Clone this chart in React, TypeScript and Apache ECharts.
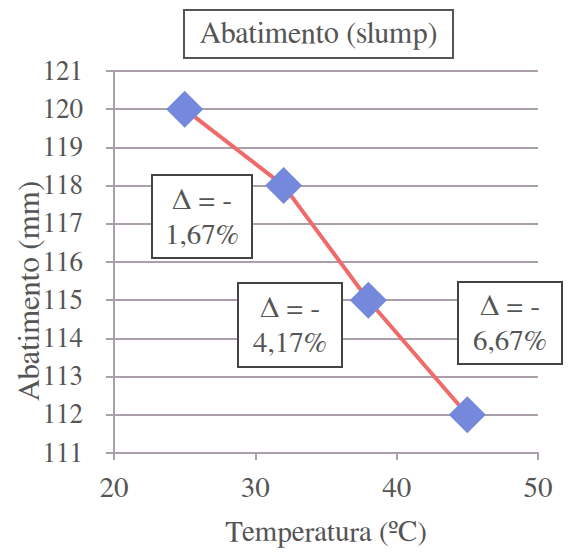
import React, { useEffect, useRef } from "react";
import * as echarts from "echarts";

const temperatures = [25, 32, 38, 45];
const slump = [120, 118, 115, 112];
const xTicks = { min: 20, max: 50, interval: 10 };
const yTicks = { min: 111, max: 121, interval: 1 };
const titleText = "Abatimento (slump)";
const xName = "Temperatura (ºC)";
const yName = "Abatimento (mm)";
const annotations = ["Δ = -\n1,67%", "Δ = -\n4,17%", "Δ = -\n6,67%"];

const FONT = "FreeSerif, 'DejaVu Serif', serif";
const TXT = "#555555";
const GRID = "#aa9fab";

export default function App() {
  const ref = useRef<HTMLDivElement>(null);
  useEffect(() => {
    document.body.style.margin = "0";
    if (!ref.current) return;
    const chart = echarts.init(ref.current, null, { renderer: "svg" });
    const boxes = [
      { x: 152, y: 175, w: 100, h: 83 },
      { x: 238, y: 283, w: 104, h: 84 },
      { x: 458, y: 282, w: 104, h: 82 },
    ];
    const graphic: any[] = [
      {
        type: "rect",
        shape: { x: 184, y: 10, width: 269, height: 48 },
        style: { fill: "#fff", stroke: "#555", lineWidth: 2 },
        z: 100,
      },
      {
        type: "text",
        x: 318.5,
        y: 34,
        style: {
          text: titleText,
          fontSize: 30,
          fontFamily: FONT,
          fill: TXT,
          align: "center",
          verticalAlign: "middle",
        },
        z: 101,
      },
      {
        type: "text",
        x: 29,
        y: 291,
        rotation: Math.PI / 2,
        style: {
          text: yName,
          fontSize: 31,
          fontFamily: FONT,
          fill: TXT,
          align: "center",
          verticalAlign: "middle",
        },
        z: 101,
      },
    ];
    annotations.forEach((t, i) => {
      const b = boxes[i];
      graphic.push({
        type: "rect",
        shape: { x: b.x, y: b.y, width: b.w, height: b.h },
        style: { fill: "#fff", stroke: "#444", lineWidth: 2 },
        z: 100,
      });
      graphic.push({
        type: "text",
        x: b.x + b.w / 2,
        y: b.y + b.h / 2 + 1,
        style: {
          text: t,
          fontSize: 29,
          fontFamily: FONT,
          lineHeight: 35,
          fill: TXT,
          align: "center",
          verticalAlign: "middle",
        },
        z: 101,
      });
    });
    chart.setOption({
      animation: false,
      backgroundColor: "#fff",
      grid: { left: 114, right: 32, top: 71, bottom: 96, containLabel: false },
      xAxis: {
        type: "value",
        min: xTicks.min,
        max: xTicks.max,
        interval: xTicks.interval,
        name: xName,
        nameLocation: "middle",
        nameGap: 65,
        nameTextStyle: { fontSize: 29, color: TXT, fontFamily: FONT },
        axisLine: { show: true, lineStyle: { color: GRID, width: 2 } },
        axisTick: { show: true, length: 7, lineStyle: { color: GRID, width: 2 } },
        splitLine: { show: false },
        axisLabel: { fontSize: 29, color: TXT, margin: 21, fontFamily: FONT },
      },
      yAxis: {
        type: "value",
        min: yTicks.min,
        max: yTicks.max,
        interval: yTicks.interval,
        axisLine: { show: true, lineStyle: { color: GRID, width: 2 } },
        axisTick: { show: true, length: 8, lineStyle: { color: GRID, width: 2 } },
        splitLine: { show: true, lineStyle: { color: GRID, width: 2 } },
        axisLabel: { fontSize: 27, color: TXT, margin: 31, fontFamily: FONT },
      },
      series: [
        {
          type: "line",
          data: temperatures.map((t, i) => [t, slump[i]]),
          lineStyle: { color: "#f06a6a", width: 4 },
          symbol: "diamond",
          symbolSize: 37,
          itemStyle: { color: "#7489dc" },
          z: 5,
        },
      ],
      graphic,
    });
    return () => chart.dispose();
  }, []);
  return <div ref={ref} style={{ width: 570, height: 552 }} />;
}
